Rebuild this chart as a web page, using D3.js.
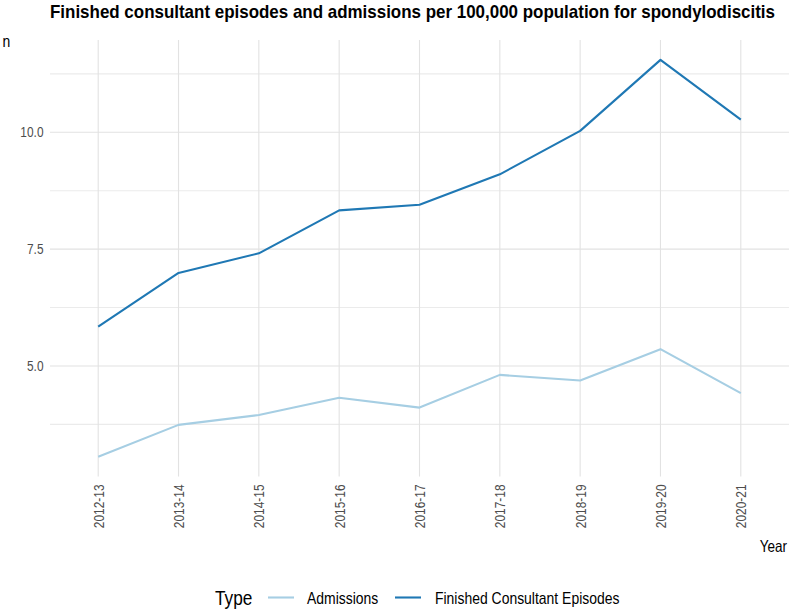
<!DOCTYPE html>
<html>
<head>
<meta charset="utf-8">
<script src="https://cdn.jsdelivr.net/npm/d3@7"></script>
<style>
  html, body { margin: 0; padding: 0; background: #fff; }
  svg { display: block; }
  text { font-family: 'Liberation Sans Narrow', 'Arial Narrow', 'Liberation Sans', Arial, sans-serif; }
</style>
</head>
<body>
<svg id="chart" width="790" height="613"></svg>
<script>
const years = ["2012-13","2013-14","2014-15","2015-16","2016-17","2017-18","2018-19","2019-20","2020-21"];
const admissions = [3.06, 3.74, 3.95, 4.32, 4.11, 4.81, 4.69, 5.36, 4.42];
const episodes = [5.84, 6.99, 7.41, 8.33, 8.45, 9.10, 10.03, 11.55, 10.27];
const seriesNames = ["Admissions", "Finished Consultant Episodes"];
const seriesColors = ["#a6cee3", "#1f78b4"];
const yMajorTicks = [5.0, 7.5, 10.0];
const yMinorTicks = [3.75, 6.25, 8.75, 11.25];
const titleText = "Finished consultant episodes and admissions per 100,000 population for spondylodiscitis";

const svg = d3.select("#chart");
const panel = {left: 50, right: 789, top: 40, bottom: 476.5};

// emulate a narrow font face by compressing the glyphs horizontally
function narrow(sel, factor) {
  sel.each(function() {
    const w = this.getComputedTextLength();
    d3.select(this).attr("textLength", w * factor).attr("lengthAdjust", "spacingAndGlyphs");
  });
}

const x = d3.scalePoint().domain(years).range([panel.left, panel.right]).padding(0.6);
const allVals = admissions.concat(episodes);
const [mn, mx] = d3.extent(allVals);
const pad = (mx - mn) * 0.05;
const y = d3.scaleLinear().domain([mn - pad, mx + pad]).range([panel.bottom, panel.top]);

// grid
const g = svg.append("g");
g.selectAll(".minor").data(yMinorTicks).join("line")
  .attr("x1", panel.left).attr("x2", panel.right)
  .attr("y1", d => y(d)).attr("y2", d => y(d))
  .attr("stroke", "#ebebeb").attr("stroke-width", 1.1);
g.selectAll(".major").data(yMajorTicks).join("line")
  .attr("x1", panel.left).attr("x2", panel.right)
  .attr("y1", d => y(d)).attr("y2", d => y(d))
  .attr("stroke", "#e2e2e2").attr("stroke-width", 1.1);
g.selectAll(".vgrid").data(years).join("line")
  .attr("x1", d => x(d)).attr("x2", d => x(d))
  .attr("y1", panel.top).attr("y2", panel.bottom)
  .attr("stroke", "#e2e2e2").attr("stroke-width", 1.1);

// axes
const yAxis = svg.append("g").attr("transform", `translate(${panel.left},0)`)
  .call(d3.axisLeft(y).tickValues(yMajorTicks).tickFormat(d3.format(".1f")).tickSize(0).tickPadding(6.5));
yAxis.select(".domain").remove();
yAxis.selectAll("text").attr("fill", "#4d4d4d").style("font-size", "14.5px")
  .style("font-family", "'Liberation Sans Narrow', 'Arial Narrow', 'Liberation Sans', sans-serif")
  .call(narrow, 0.82);

const xAxis = svg.append("g").attr("transform", `translate(0,${panel.bottom})`)
  .call(d3.axisBottom(x).tickSize(0));
xAxis.select(".domain").remove();
xAxis.selectAll("text")
  .attr("fill", "#4d4d4d").style("font-size", "14.5px")
  .style("font-family", "'Liberation Sans Narrow', 'Arial Narrow', 'Liberation Sans', sans-serif")
  .attr("transform", "rotate(-90)")
  .attr("x", -8).attr("y", 0).attr("dy", "0.35em")
  .attr("text-anchor", "end")
  .call(narrow, 0.82);

// lines
const line = d3.line().x((d, i) => x(years[i])).y(d => y(d));
[admissions, episodes].forEach((vals, k) => {
  svg.append("path").datum(vals)
    .attr("d", line).attr("fill", "none")
    .attr("stroke", seriesColors[k]).attr("stroke-width", 2.1)
    .attr("stroke-linejoin", "round");
});

// titles
svg.append("text").attr("x", panel.left).attr("y", 18)
  .attr("font-weight", "bold").style("font-size", "18.5px").attr("fill", "#000")
  .attr("textLength", 725).attr("lengthAdjust", "spacingAndGlyphs")
  .text(titleText);
svg.append("text").attr("x", 2.5).attr("y", 46.5).style("font-size", "17px").attr("fill", "#000").text("n")
  .call(narrow, 0.82);
svg.append("text").attr("x", 787).attr("y", 552).attr("text-anchor", "end")
  .style("font-size", "16.5px").attr("fill", "#000").text("Year")
  .call(narrow, 0.82);

// legend
const lg = svg.append("g");
lg.append("text").attr("x", 215).attr("y", 605).style("font-size", "21px").attr("fill", "#000").text("Type")
  .call(narrow, 0.82);
const keyX = [268, 395];
const labX = [307, 435];
seriesNames.forEach((name, k) => {
  lg.append("line").attr("x1", keyX[k]).attr("x2", keyX[k] + 26)
    .attr("y1", 597.5).attr("y2", 597.5)
    .attr("stroke", seriesColors[k]).attr("stroke-width", 2.1);
  lg.append("text").attr("x", labX[k]).attr("y", 604)
    .style("font-size", "17px").attr("fill", "#000").text(name)
    .call(narrow, 0.82);
});
</script>
</body>
</html>
